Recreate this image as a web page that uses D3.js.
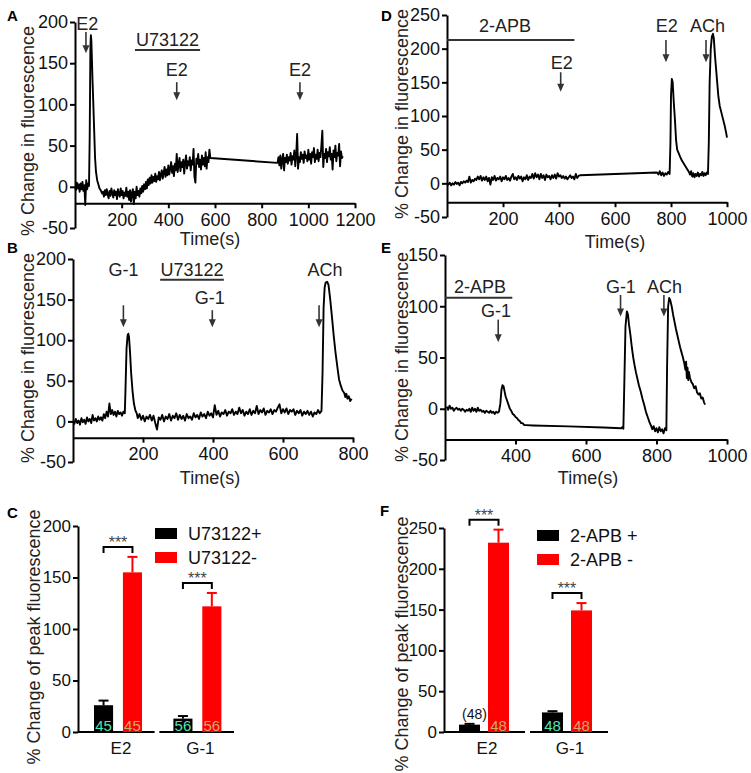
<!DOCTYPE html>
<html><head><meta charset="utf-8">
<script src="https://cdn.jsdelivr.net/npm/d3@7"></script>
<style>
body{margin:0;background:#fff;}
svg{display:block;background:#fff;}
</style></head><body>
<svg id="fig" width="751" height="773"></svg>
<script>
// ---------------- DATA ----------------
// Panel A: time (s), % change in fluorescence
const traceA = [
[0,0],[4,-4],[8,5],[12,-2],[16,3],[20,-6],[24,4],[28,-3],[32,6],[36,-5],[40,2],[44,-22],[48,8],[52,-3],[56,4],[60,1],
[63,60],[66,170],[68,184],[70,178],[72,160],[75,130],[78,105],[82,70],[86,35],[90,18],[95,8],[100,3],[105,-2],[110,-4],[116,-8],
[120,-6],[124,-12],[128,-4],[132,-10],[136,-3],[140,-9],[144,-14],[148,-5],[152,-11],[156,-2],[160,-8],[164,-13],[168,-4],[172,-10],[176,-6],[180,-15],[184,-3],[188,-9],[192,-12],[196,-2],[200,-10],[204,-5],[208,-14],[212,-7],[216,-11],[220,-1],[224,-12],[228,-6],[232,-16],[236,-4],[240,-18],[244,-8],[248,-3],[252,-21],[256,-6],[260,-14],[264,0],[268,-10],[272,-5],[276,-12],[280,-2],[284,-8],[288,1],[292,-6],[296,3],[300,-3],
[304,6],[308,-2],[312,9],[316,2],[320,11],[324,4],[328,14],[332,5],[336,12],[340,7],[344,16],[348,6],[352,13],[356,9],[360,18],[364,8],[368,15],[372,20],[376,10],[380,17],[384,24],[388,12],[392,21],[396,14],[400,26],[404,15],[408,22],[412,30],[416,17],[420,25],[424,13],[428,28],[432,20],[436,40],[440,18],[444,27],[448,35],[452,19],[456,30],[460,24],[464,33],[468,16],[472,29],[476,38],[480,22],[484,31],[488,26],[492,36],[496,20],[500,32],[504,27],[508,46],[512,12],[516,5],[520,34],[524,28],[528,40],[532,24],[536,33],[540,21],[544,38],[548,27],[552,35],[556,25],[560,42],[564,22],[568,36],[572,30],[576,45],[580,35],
[868,29],[872,36],[876,26],[880,38],[884,22],[888,33],[892,40],[896,20],[900,35],[904,30],[908,39],[912,28],[916,36],[920,32],[924,41],[928,27],[932,37],[936,33],[940,44],[944,25],[948,38],[952,64],[956,22],[960,36],[964,30],[968,42],[972,34],[976,39],[980,29],[984,43],[988,35],[992,38],[996,31],[1000,45],[1004,33],[1008,40],[1012,28],[1016,42],[1020,36],[1024,47],[1028,30],[1032,39],[1036,34],[1040,45],[1044,31],[1048,41],[1052,36],[1056,50],[1060,68],[1064,24],[1068,40],[1072,35],[1076,46],[1080,30],[1084,42],[1088,37],[1092,48],[1096,33],[1100,40],[1104,21],[1108,44],[1112,36],[1116,50],[1120,31],[1124,41],[1128,38],[1132,52],[1136,25],[1140,43],[1144,35],[1148,37]
];
// Panel B
const traceB = [
[0,0],[4,-3],[8,3],[12,-2],[16,1],[20,-4],[24,4],[28,-1],[32,2],[36,-3],[40,5],[44,0],[48,3],[52,-2],[56,8],[60,1],[64,4],[68,0],[72,6],[76,2],[80,5],[84,1],[88,9],[92,4],[96,12],[100,6],[104,22],[108,9],[112,14],[116,8],[120,12],[124,6],[128,13],[132,9],[136,11],[140,7],[144,12],[148,10],
[150,40],[153,90],[156,106],[158,108],[160,104],[163,85],[166,60],[170,38],[174,22],[178,14],[182,10],
[185,4],[190,9],[195,2],[200,7],[205,0],[210,6],[215,3],[220,8],[225,1],[230,7],[235,-2],[240,-10],[245,5],[250,2],[255,8],[260,0],[265,6],[270,3],[275,9],[280,1],[285,7],[290,4],[295,10],[300,2],[305,8],[310,3],[315,7],[320,1],[325,9],[330,4],[335,6],[340,2],[345,10],[350,5],[355,8],[360,3],[365,11],[370,6],[375,9],[380,4],[385,12],[390,7],[395,10],[400,5],[405,20],[410,8],[415,13],[420,6],[425,11],[430,9],[435,14],[440,7],[445,12],[450,10],[455,15],[460,8],[465,12],[470,9],[475,17],[480,10],[485,14],[490,7],[495,12],[500,9],[505,15],[510,8],[515,13],[520,10],[525,19],[530,9],[535,14],[540,11],[545,16],[550,8],[555,13],[560,11],[565,15],[570,9],[575,14],[580,12],[585,17],[590,21],[595,10],[600,15],[605,11],[610,16],[615,9],[620,14],[625,12],[630,15],[635,8],[640,13],[645,10],[650,14],[655,7],[660,12],[665,9],[670,13],[675,8],[680,12],[685,6],[690,11],[695,9],[700,14],[705,10],[710,13],
[713,60],[716,140],[719,165],[722,171],[726,172],[730,168],[735,150],[740,128],[745,105],[750,85],[755,68],[760,52],[765,44],[770,38],[775,35],[778,30],[781,34],[784,28],[788,31],[792,25],[796,28]
];
// Panel D
const traceD = [
[0,0],[5,-2],[10,1],[15,-3],[20,0],[25,-2],[30,2],[35,-1],[40,1],[45,-3],[50,2],[55,0],[60,3],[65,1],[70,4],[75,2],[80,10],[85,1],[90,5],[95,3],[100,7],[105,5],[110,10],[115,6],[120,11],[125,4],[130,9],[135,5],[140,10],[145,3],[150,8],[155,-2],[160,9],[165,5],[170,11],[175,4],[180,8],[185,6],[190,10],[195,3],[200,9],[205,6],[210,11],[215,5],[220,8],[225,4],[230,10],[235,14],[240,6],[245,9],[250,5],[255,11],[260,7],[265,10],[270,3],[275,9],[280,6],[285,12],[290,5],[295,10],[300,8],[305,14],[310,7],[315,15],[320,9],[325,13],[330,6],[335,14],[340,8],[345,12],[350,5],[355,13],[360,9],[365,11],[370,6],[375,12],[380,8],[385,13],[390,7],[395,15],[400,10],[405,12],[410,8],[415,11],[420,7],[425,10],[430,6],[435,9],[440,12],[445,8],[450,10],[455,6],[460,14],[465,8],[470,11],[475,12],
[750,16],[755,13],[760,18],[765,12],[770,16],[775,11],[780,15],[785,13],[790,17],[795,14],
[798,60],[800,130],[803,155],[806,150],[810,120],[814,95],[818,65],[822,50],[828,44],[834,38],[840,33],[846,29],[852,25],[858,21],[864,17],
[868,13],[872,18],[876,10],[880,15],[884,9],[888,14],[892,11],[896,16],[900,10],[904,14],[908,12],[912,17],[916,11],[920,15],[924,12],[928,16],[932,14],
[935,60],[938,150],[942,200],[946,218],[950,222],[953,215],[957,190],[961,170],[965,150],[969,130],[974,115],[980,105],[986,95],[992,85],[997,75],[1000,68]
];
// Panel E
const traceE = [
[205,2],[209,-1],[213,3],[217,0],[221,1],[225,-2],[229,0],[233,1],[237,-1],[241,0],[245,-2],[249,0],[253,-1],[257,-3],[261,-1],[265,-2],[269,0],[273,-3],[277,1],[281,-2],[285,0],[289,-3],[293,1],[297,-2],[301,-1],[305,-3],[309,-2],[313,-4],[317,-2],[321,-3],[325,-4],[329,-2],[333,-4],[337,-3],[341,-5],[345,-3],[349,-4],[353,-3],
[357,5],[360,18],[363,23],[366,22],[369,17],[372,12],[376,8],[380,4],[384,0],[388,-2],[392,-5],[396,-6],[400,-8],[404,-9],[408,-11],[412,-12],[416,-14],[420,-14],[425,-16],[430,-16],
[450,-16.3],[550,-17.2],[650,-18.3],[700,-19],[703,-18],[706,-19.5],
[709,30],[712,80],[716,95],[719,92],[722,82],[726,72],[730,60],[734,50],[738,42],[742,35],[746,29],[750,23],[755,17],[760,10],[765,4],[770,-3],[775,-8],[780,-13],[785,-17],
[788,-20],[792,-17],[796,-22],[800,-19],[804,-23],[808,-18],[812,-22],[816,-20],[820,-24],[824,-19],[828,-21],
[830,40],[833,100],[836,108],[839,106],[843,100],[847,92],[851,85],[855,78],[859,72],[863,66],[867,60],[871,55],[875,50],[879,44],[882,38],[884,46],[886,30],[888,40],[890,28],[892,36],[895,30],[899,26],[903,24],[907,20],[911,22],[915,16],[919,14],[923,15],[927,10],[931,11],[935,6],[938,4]
];

const xTicksA = [200,400,600,800,1000,1200];
const yTicksA = [-50,0,50,100,150,200];
const xTicksB = [200,400,600,800];
const yTicksB = [-50,0,50,100,150,200];
const xTicksD = [200,400,600,800,1000];
const yTicksD = [-50,0,50,100,150,200,250];
const xTicksE = [400,600,800,1000];
const yTicksE = [-50,0,50,100,150];

// drug application annotations (time, level in % units)
const arrowsA = [
  {text:"E2", t:47, from:188, to:162, textT:53, textV:198},
  {text:"E2", t:436, from:127, to:105, textT:436, textV:142},
  {text:"E2", t:964, from:127, to:105, textT:964, textV:142}
];
const barsA = [{text:"U73122", t0:257, t1:536, v:166, textV:179}];
const arrowsB = [
  {text:"G-1", t:144, from:143, to:116, textT:144, textV:187},
  {text:"G-1", t:398, from:137, to:116, textT:391, textV:153},
  {text:"ACh", t:703, from:143, to:116, textT:720, textV:187}
];
const barsB = [{text:"U73122", t0:249, t1:431, v:174.5, textV:187}];
const arrowsD = [
  {text:"E2", t:406, from:165, to:136, textT:410, textV:180},
  {text:"E2", t:782, from:213, to:180, textT:785, textV:234},
  {text:"ACh", t:925, from:213, to:180, textT:930, textV:234}
];
const barsD = [{text:"2-APB", t0:0, t1:455, v:213, textT:207, textV:234}];
const arrowsE = [
  {text:"G-1", t:351, from:87, to:65, textT:345, textV:96},
  {text:"G-1", t:698, from:111, to:90, textT:699, textV:119},
  {text:"ACh", t:821, from:111, to:90, textT:823, textV:119}
];
const barsE = [{text:"2-APB", t0:200, t1:391, v:108.4, textT:299, textV:119}];

// Bar charts
const categories = ["E2","G-1"];
const seriesC = ["U73122+","U73122-"];
const meanC = [[26,13],[155,122]];   // [series][category]
const errC  = [[4.5,2.5],[15,13]];
const nC    = [[45,56],[45,56]];
const yTicksC = [0,50,100,150,200];

const seriesF = ["2-APB +","2-APB -"];
const meanF = [[9,24],[232,149]];
const errF  = [[1,1.5],[16,9]];
const nF    = [[48,48],[48,48]];
const yTicksF = [0,50,100,150,200,250];

// ---------------- DRAWING ----------------
const FONT = "Arial, 'Liberation Sans', Helvetica, sans-serif";
const svg = d3.select("#fig").attr("font-family", FONT);

function styleAxis(sel, fs){
  sel.attr("font-family", FONT).attr("font-size", fs);
  sel.select(".domain").attr("stroke","#000").attr("stroke-width",2);
  sel.selectAll(".tick line").attr("stroke","#000").attr("stroke-width",2);
  sel.selectAll(".tick text").attr("fill","#111");
}

function letter(txt, x, y){
  svg.append("text").attr("x",x).attr("y",y).attr("font-size",15).attr("font-weight","bold")
    .attr("fill","#000").text(txt);
}

function yLabel(txt, cx, cy, fs){
  svg.append("text").attr("transform",`translate(${cx},${cy}) rotate(-90)`)
    .attr("text-anchor","middle").attr("dy","0.35em").attr("font-size",fs).attr("fill","#222").text(txt);
}

function tracePanel(c){
  const x = d3.scaleLinear().domain(c.xDomain).range(c.xRange);
  const y = d3.scaleLinear().domain(c.yDomain).range(c.yRange);
  const g = svg.append("g");
  const ya = g.append("g").attr("transform",`translate(${c.xRange[0]},0)`)
    .call(d3.axisLeft(y).tickValues(c.yTicks).tickSize(5).tickPadding(2).tickSizeOuter(0).tickFormat(d=>String(d)));
  styleAxis(ya, 18);
  const xa = g.append("g").attr("transform",`translate(0,${y(c.axisAt)})`)
    .call(d3.axisBottom(x).tickValues(c.xTicks).tickSize(5).tickPadding(5).tickSizeOuter(0).tickFormat(d=>String(d)));
  styleAxis(xa, 18);
  g.append("path").datum(c.data)
    .attr("d", d3.line().x(d=>x(d[0])).y(d=>y(d[1])))
    .attr("fill","none").attr("stroke","#000").attr("stroke-width",1.9).attr("stroke-linejoin","round");
  // treatment bars
  c.bars.forEach(b=>{
    g.append("line").attr("x1",x(b.t0)).attr("x2",x(b.t1)).attr("y1",y(b.v)).attr("y2",y(b.v))
      .attr("stroke","#333").attr("stroke-width",2);
    const tt = b.textT!==undefined ? b.textT : (b.t0+b.t1)/2;
    g.append("text").attr("x",x(tt)).attr("y",y(b.textV)).attr("dy","0.36em").attr("text-anchor","middle")
      .attr("font-size",18).attr("fill","#222").text(b.text);
  });
  // arrows
  c.arrows.forEach(a=>{
    const ax = x(a.t), y1 = y(a.from), y2 = y(a.to);
    g.append("line").attr("x1",ax).attr("x2",ax).attr("y1",y1).attr("y2",y2-6)
      .attr("stroke","#333").attr("stroke-width",1.6);
    g.append("path").attr("d",`M${ax-3.5},${y2-8} L${ax+3.5},${y2-8} L${ax},${y2} Z`).attr("fill","#333");
    g.append("text").attr("x",x(a.textT)).attr("y",y(a.textV)).attr("dy","0.36em").attr("text-anchor","middle")
      .attr("font-size",18).attr("fill","#222").text(a.text);
  });
  g.append("text").attr("x",c.timeLabel[0]).attr("y",c.timeLabel[1]).attr("dy","0.36em").attr("text-anchor","middle")
    .attr("font-size",18).attr("fill","#222").text("Time(s)");
  yLabel("% Change in fluorescence", c.yLabel[0], c.yLabel[1], 18);
}

tracePanel({data:traceA, xDomain:[0,1200], xRange:[75,355], yDomain:[-50,200], yRange:[228,22], axisAt:-20,
  xTicks:xTicksA, yTicks:yTicksA, arrows:arrowsA, bars:barsA, timeLabel:[210,239], yLabel:[28,131]});
tracePanel({data:traceB, xDomain:[0,800], xRange:[73,353], yDomain:[-50,200], yRange:[462,259], axisAt:-20,
  xTicks:xTicksB, yTicks:yTicksB, arrows:arrowsB, bars:barsB, timeLabel:[210,478], yLabel:[28,358]});
tracePanel({data:traceD, xDomain:[0,1000], xRange:[447,727], yDomain:[-50,250], yRange:[217,15], axisAt:-28,
  xTicks:xTicksD, yTicks:yTicksD, arrows:arrowsD, bars:barsD, timeLabel:[615,242], yLabel:[402,114]});
tracePanel({data:traceE, xDomain:[200,1000], xRange:[445,727], yDomain:[-50,150], yRange:[460,255], axisAt:-30,
  xTicks:xTicksE, yTicks:yTicksE, arrows:arrowsE, bars:barsE, timeLabel:[588,478], yLabel:[402,357]});

function barPanel(c){
  const y = d3.scaleLinear().domain(c.yDomain).range(c.yRange);
  const x0 = d3.scaleBand().domain(categories).range(c.bandRange).paddingInner(0.06);
  const x1 = d3.scaleBand().domain([0,1]).range(c.subRange).paddingInner(c.subPad);
  const colors = ["#000000","#ff0000"];
  const nColors = ["#55e3b3","#cfa96b"];
  const g = svg.append("g");
  const ya = g.append("g").attr("transform",`translate(${c.axisX},0)`)
    .call(d3.axisLeft(y).tickValues(c.yTicks).tickSize(5).tickPadding(2).tickSizeOuter(0));
  styleAxis(ya, 17);
  // baselines per group
  categories.forEach((cat,i)=>{
    const xs = i===0 ? c.axisX : x0(cat);
    g.append("line").attr("x1",xs).attr("x2",x0(cat)+x0.bandwidth()).attr("y1",y(0)).attr("y2",y(0))
      .attr("stroke","#000").attr("stroke-width",2);
  });
  categories.forEach((cat,i)=>{
    [0,1].forEach(s=>{
      const bx = x0(cat)+x1(s), bw = x1.bandwidth();
      const m = c.mean[s][i], e = c.err[s][i];
      g.append("rect").attr("x",bx).attr("y",y(m)).attr("width",bw).attr("height",y(0)-y(m)).attr("fill",colors[s]);
      const cx = bx+bw/2;
      g.append("line").attr("x1",cx).attr("x2",cx).attr("y1",y(m)).attr("y2",y(m+e)).attr("stroke",colors[s]).attr("stroke-width",2);
      g.append("line").attr("x1",cx-5).attr("x2",cx+5).attr("y1",y(m+e)).attr("y2",y(m+e)).attr("stroke",colors[s]).attr("stroke-width",2);
      const inside = (y(0)-y(m)) >= 10;
      g.append("text").attr("x", inside ? cx : cx+5).attr("y", inside ? y(0)-1.5 : y(m+e)-5)
        .attr("text-anchor","middle").attr("font-size", inside ? 15 : 14)
        .attr("fill", inside ? nColors[s] : "#111").text(inside ? c.n[s][i] : "("+c.n[s][i]+")");
    });
    // significance bracket
    const xa = x0(cat)+x1(0)+x1.bandwidth()/2, xb = x0(cat)+x1(1)+x1.bandwidth()/2;
    const top = Math.max(c.mean[0][i]+c.err[0][i], c.mean[1][i]+c.err[1][i]);
    const by = y(top)-10;
    g.append("path").attr("d",`M${xa},${by+6} L${xa},${by} L${xb},${by} L${xb},${by+6}`)
      .attr("fill","none").attr("stroke","#000").attr("stroke-width",2);
    g.append("text").attr("x",(xa+xb)/2).attr("y",by+1).attr("text-anchor","middle").attr("font-size",16)
      .attr("fill","#444").text("***");
    // category label
    g.append("text").attr("x",(xa+xb)/2+3).attr("y",y(0)+16).attr("dy","0.36em").attr("text-anchor","middle")
      .attr("font-size",17).attr("fill","#111").text(cat);
  });
  // legend
  c.series.forEach((s,k)=>{
    g.append("rect").attr("x",c.legend[0]).attr("y",c.legend[1]+k*24).attr("width",22).attr("height",11).attr("fill",colors[k]);
    g.append("text").attr("x",c.legend[0]+33).attr("y",c.legend[1]+k*24+5.5).attr("dy","0.36em")
      .attr("font-size",18).attr("fill","#111").text(s);
  });
  yLabel("% Change of peak fluorescence", c.yLabel[0], c.yLabel[1], 18);
}

barPanel({series:seriesC, mean:meanC, err:errC, n:nC, yDomain:[0,200], yRange:[732,526], axisX:78,
  bandRange:[80,234], subRange:[14,62], subPad:0.34, yTicks:yTicksC, legend:[155,528], yLabel:[34,637]});
barPanel({series:seriesF, mean:meanF, err:errF, n:nF, yDomain:[0,250], yRange:[732,528], axisX:444,
  bandRange:[447,608], subRange:[12,62], subPad:0.276, yTicks:yTicksF, legend:[537,530], yLabel:[402,644]});

letter("A",7,21); letter("B",7,253); letter("C",7,518);
letter("D",381,21); letter("E",381,253); letter("F",380,516);
</script>
</body></html>
